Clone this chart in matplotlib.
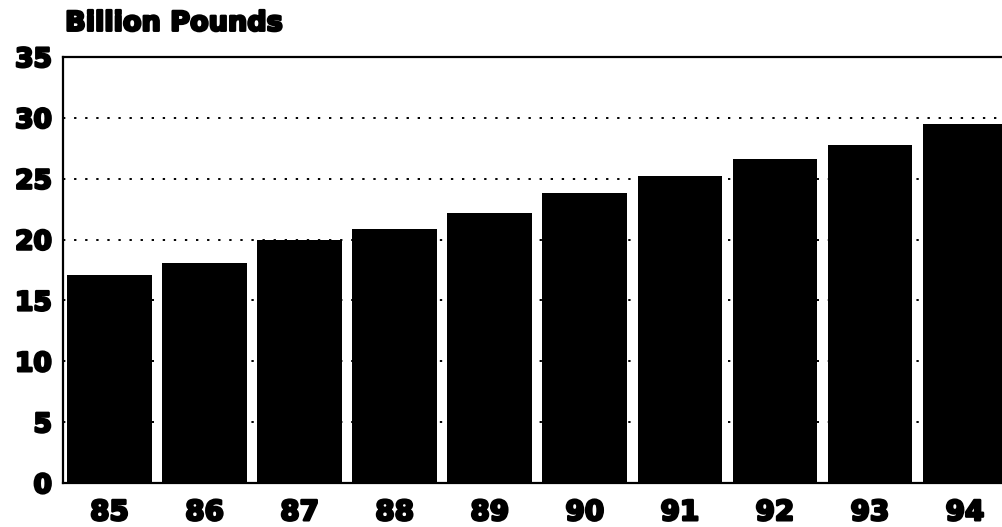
import numpy as np
import matplotlib.pyplot as plt
import matplotlib.patheffects as pe

years = ["85", "86", "87", "88", "89", "90", "91", "92", "93", "94"]
pounds = [17.1, 18.1, 20.0, 20.9, 22.2, 23.8, 25.2, 26.6, 27.8, 29.5]
yticks = [0, 5, 10, 15, 20, 25, 30, 35]

font = ['DejaVu Sans']
heavy = [pe.withStroke(linewidth=1.8, foreground='black')]

fig = plt.figure(figsize=(10.02, 5.27), dpi=100)
ax = fig.add_axes([0.0629, 0.0835, 0.9371, 0.8085])

x = np.arange(len(years))
ax.bar(x, pounds, width=0.89, color='black', zorder=2)

ax.set_xlim(-0.49, 9.39)
ax.set_ylim(0, 35)
ax.set_yticks(yticks)
ax.set_xticks(x)
ax.set_xticklabels(years)

for y in yticks[1:-1]:
    ax.axhline(y, color='black', linestyle=(0, (1.2, 4.5)), linewidth=1.4, zorder=1)

ax.tick_params(axis='both', length=0)
ax.tick_params(axis='x', pad=11, labelsize=20)
ax.tick_params(axis='y', pad=8, labelsize=19)
for lab in ax.get_xticklabels() + ax.get_yticklabels():
    lab.set_family(font)
    lab.set_weight('bold')
    lab.set_path_effects(heavy)

for s in ['left', 'bottom', 'top']:
    ax.spines[s].set_linewidth(1.6)
ax.spines['right'].set_visible(False)

fig.text(0.065, 0.955, "Billion Pounds", fontsize=19.5, weight='bold', family=font,
         ha='left', va='center', path_effects=heavy)

fig.savefig("out.png", dpi=100)
